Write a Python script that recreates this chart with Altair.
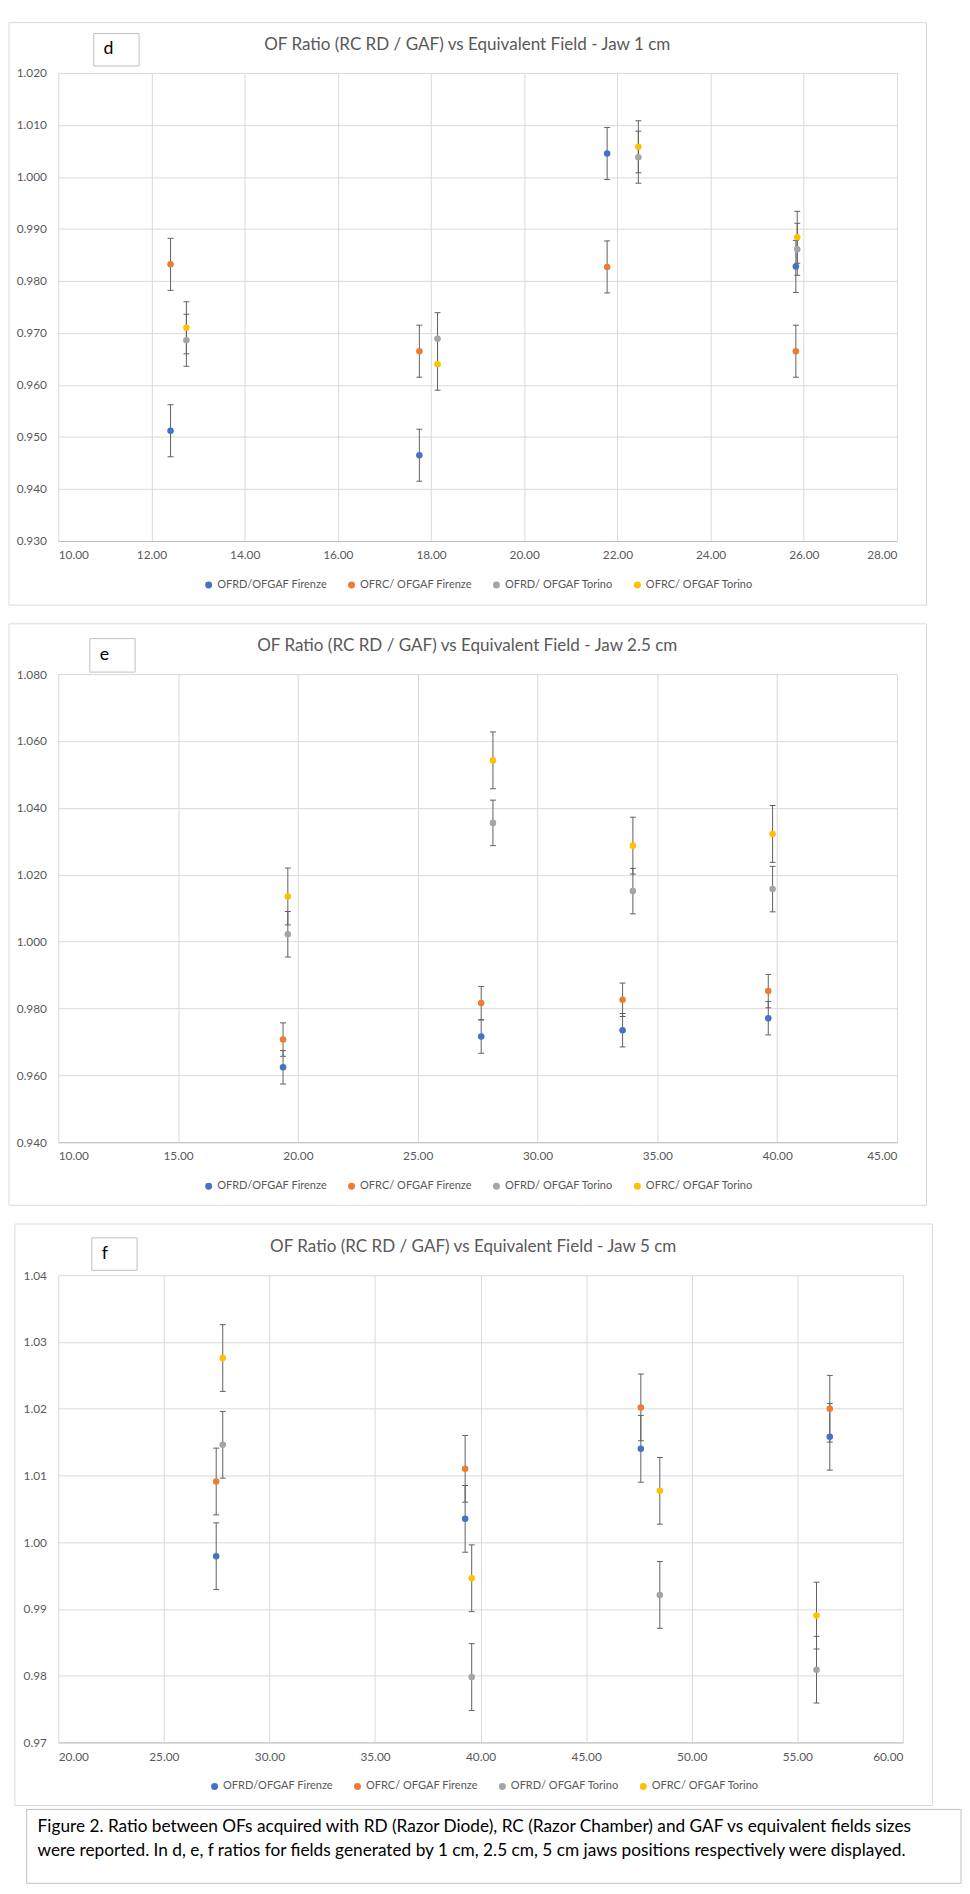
import altair as alt
import pandas as pd

SERIES = ["OFRD/OFGAF Firenze", "OFRC/ OFGAF Firenze", "OFRD/ OFGAF Torino", "OFRC/ OFGAF Torino"]
COLORS = ["#4472C4", "#ED7D31", "#A5A5A5", "#FFC000"]

# ---- panel d (Jaw 1 cm)
D_X_FIRENZE = [12.41, 17.75, 21.78, 25.83]
D_X_TORINO = [12.75, 18.14, 22.45, 25.86]
D_RD_FIRENZE = [0.9512, 0.9465, 1.0045, 0.9828]
D_RC_FIRENZE = [0.9832, 0.9665, 0.9827, 0.9665]
D_RD_TORINO = [0.9686, 0.9689, 1.0038, 0.9861]
D_RC_TORINO = [0.9710, 0.9640, 1.0058, 0.9884]
D_ERR = [0.005, 0.005, 0.005, 0.005]
D_XTICKS = [10, 12, 14, 16, 18, 20, 22, 24, 26, 28]
D_YTICKS = [0.93, 0.94, 0.95, 0.96, 0.97, 0.98, 0.99, 1.00, 1.01, 1.02]

# ---- panel e (Jaw 2.5 cm)
E_X_FIRENZE = [19.38, 27.65, 33.55, 39.63]
E_X_TORINO = [19.58, 28.14, 33.98, 39.81]
E_RD_FIRENZE = [0.9624, 0.9716, 0.9735, 0.9771]
E_RC_FIRENZE = [0.9707, 0.9816, 0.9826, 0.9852]
E_RD_TORINO = [1.0022, 1.0355, 1.0151, 1.0157]
E_RC_TORINO = [1.0135, 1.0542, 1.0287, 1.0322]
E_ERR = [0.005, 0.005, 0.0068, 0.0085]
E_XTICKS = [10, 15, 20, 25, 30, 35, 40, 45]
E_YTICKS = [0.94, 0.96, 0.98, 1.00, 1.02, 1.04, 1.06, 1.08]

# ---- panel f (Jaw 5 cm)
F_X_FIRENZE = [27.48, 39.27, 47.59, 56.54]
F_X_TORINO = [27.79, 39.58, 48.49, 55.91]
F_RD_FIRENZE = [0.9979, 1.0035, 1.0140, 1.0158]
F_RC_FIRENZE = [1.0091, 1.0110, 1.0202, 1.0200]
F_RD_TORINO = [1.0146, 0.9798, 0.9921, 0.9809]
F_RC_TORINO = [1.0276, 0.9946, 1.0077, 0.9890]
F_ERR = [0.005, 0.005, 0.005, 0.005]
F_XTICKS = [20, 25, 30, 35, 40, 45, 50, 55, 60]
F_YTICKS = [0.97, 0.98, 0.99, 1.00, 1.01, 1.02, 1.03, 1.04]

TITLES = [
    "OF Ratio (RC RD / GAF) vs Equivalent Field - Jaw 1 cm",
    "OF Ratio (RC RD / GAF) vs Equivalent Field - Jaw 2.5 cm",
    "OF Ratio (RC RD / GAF) vs Equivalent Field - Jaw 5 cm",
]
LETTERS = ["d", "e", "f"]
CAPTION = [
    "Figure 2. Ratio between OFs acquired with RD (Razor Diode), RC (Razor Chamber) and GAF vs equivalent fields sizes",
    "were reported. In d, e, f ratios for fields generated by 1 cm, 2.5 cm, 5 cm jaws positions respectively were displayed.",
]

FONT = "Lato"
GREY_TXT = "#595959"
ERR_COL = "#5f5f5f"


def build_df(xf, xt, rdf, rcf, rdt, rct, errs):
    rows = []
    for si, (ys, e) in enumerate(zip([rdf, rcf, rdt, rct], errs)):
        xs = xf if si < 2 else xt
        for xv, yv in zip(xs, ys):
            rows.append({"series": SERIES[si], "order": si, "x": xv, "y": yv,
                         "lo": yv - e, "hi": yv + e})
    return pd.DataFrame(rows)


ONE = pd.DataFrame({"k": [0]})


def panel(df, xticks, yticks, yfmt, title, letter, w, h, box, lbox, letter_pos,
          title_pos, legend_pos, extra=None):
    xs = alt.Scale(domain=[xticks[0], xticks[-1]], nice=False, zero=False)
    ysc = alt.Scale(domain=[yticks[0], yticks[-1]], nice=False, zero=False)
    xax = alt.Axis(values=xticks, format=".2f", grid=True, ticks=False,
                   domain=True, domainColor="#bfbfbf", labelPadding=9)
    yax = alt.Axis(values=yticks, format=yfmt, grid=True, ticks=False,
                   domain=False, labelPadding=12)

    def X():
        return alt.X("x:Q", scale=xs, axis=xax, title=None)

    def Y(f):
        return alt.Y(f + ":Q", scale=ysc, axis=yax, title=None)

    base = alt.Chart(df)
    outer = alt.Chart(ONE).mark_rect(filled=False, stroke="#d9d9d9", strokeWidth=1).encode(
        x=alt.value(box[0]), x2=alt.value(box[1]), y=alt.value(box[2]), y2=alt.value(box[3]))
    lrect = alt.Chart(ONE).mark_rect(fill="white", stroke="#bfbfbf", strokeWidth=1).encode(
        x=alt.value(lbox[0]), x2=alt.value(lbox[1]), y=alt.value(lbox[2]), y2=alt.value(lbox[3]))
    ltext = alt.Chart(ONE).mark_text(font=FONT, fontSize=18, color="black", align="left",
                                     baseline="middle").encode(
        x=alt.value(letter_pos[0]), y=alt.value(letter_pos[1]), text=alt.value(letter))
    ttext = alt.Chart(ONE).mark_text(font=FONT, fontSize=17.3, color=GREY_TXT, align="center",
                                     baseline="middle").encode(
        x=alt.value(title_pos[0]), y=alt.value(title_pos[1]), text=alt.value(title))
    rules = base.mark_rule(color=ERR_COL, strokeWidth=1).encode(x=X(), y=Y("lo"), y2="hi:Q")
    cap_lo = base.mark_tick(orient="horizontal", size=6, thickness=1, color=ERR_COL,
                            opacity=1).encode(x=X(), y=Y("lo"))
    cap_hi = base.mark_tick(orient="horizontal", size=6, thickness=1, color=ERR_COL,
                            opacity=1).encode(x=X(), y=Y("hi"))
    pts = base.mark_circle(size=44, opacity=1).encode(
        x=X(), y=Y("y"),
        color=alt.Color("series:N", scale=alt.Scale(domain=SERIES, range=COLORS),
                        legend=alt.Legend(title=None, orient="none", legendX=legend_pos[0],
                                          legendY=legend_pos[1], direction="horizontal",
                                          labelFont=FONT, labelFontSize=11.2,
                                          labelColor=GREY_TXT, symbolType="circle",
                                          symbolSize=50, symbolStrokeWidth=0,
                                          labelOffset=3, columnPadding=19, padding=0)),
        order=alt.Order("order:Q"))
    layers = [outer, lrect, ltext, ttext, rules, cap_lo, cap_hi, pts]
    if extra:
        layers += extra
    return alt.layer(*layers).properties(width=w, height=h)


df_d = build_df(D_X_FIRENZE, D_X_TORINO, D_RD_FIRENZE, D_RC_FIRENZE, D_RD_TORINO, D_RC_TORINO, D_ERR)
df_e = build_df(E_X_FIRENZE, E_X_TORINO, E_RD_FIRENZE, E_RC_FIRENZE, E_RD_TORINO, E_RC_TORINO, E_ERR)
df_f = build_df(F_X_FIRENZE, F_X_TORINO, F_RD_FIRENZE, F_RC_FIRENZE, F_RD_TORINO, F_RC_TORINO, F_ERR)

pd_ = panel(df_d, D_XTICKS, D_YTICKS, ".3f", TITLES[0], LETTERS[0], 851, 475,
            box=(-50, 881, -51, 540), lbox=(36, 82, -40, -7), letter_pos=(46, -24),
            title_pos=(415, -28), legend_pos=(147, 514))
pe_ = panel(df_e, E_XTICKS, E_YTICKS, ".3f", TITLES[1], LETTERS[1], 851, 475,
            box=(-50, 881, -51, 539), lbox=(32, 78, -36, -2), letter_pos=(42, -19),
            title_pos=(415, -28), legend_pos=(147, 514))

cap_box = alt.Chart(ONE).mark_rect(filled=False, stroke="#bfbfbf", strokeWidth=1).encode(
    x=alt.value(-32), x2=alt.value(916), y=alt.value(542), y2=alt.value(617))
cap_l1 = alt.Chart(ONE).mark_text(font=FONT, fontSize=17.5, color="black", align="left",
                                  baseline="middle").encode(
    x=alt.value(-21), y=alt.value(560), text=alt.value(CAPTION[0]))
cap_l2 = alt.Chart(ONE).mark_text(font=FONT, fontSize=17.5, color="black", align="left",
                                  baseline="middle").encode(
    x=alt.value(-21), y=alt.value(584), text=alt.value(CAPTION[1]))

pf_ = panel(df_f, F_XTICKS, F_YTICKS, ".2f", TITLES[2], LETTERS[2], 857, 474,
            box=(-44, 887, -52, 538), lbox=(34, 80, -38, -5), letter_pos=(44, -22),
            title_pos=(421, -29), legend_pos=(153, 513),
            extra=[cap_box, cap_l1, cap_l2])

chart = alt.vconcat(pd_, pe_, pf_, spacing=17).resolve_scale(
    color="independent").resolve_legend(color="independent").properties(
    padding=0, background="white"
).configure_view(strokeWidth=0).configure_axis(
    gridColor="#d9d9d9", gridWidth=1, labelFont=FONT, labelFontSize=12,
    labelColor=GREY_TXT
)

chart.save("out.html", embed_options={"renderer": "svg", "actions": False})
